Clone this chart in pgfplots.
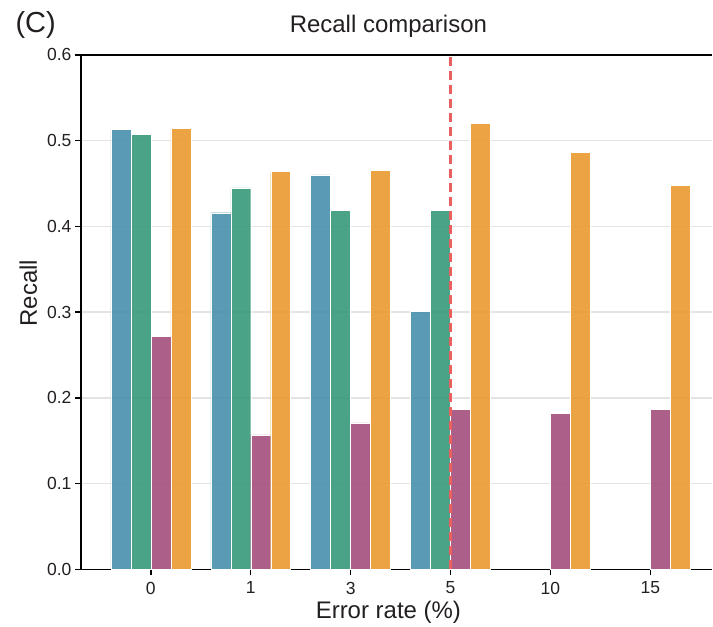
\documentclass[border=0pt]{standalone}
\usepackage{pgfplots}
\pgfplotsset{compat=1.18}
\usepackage{fontspec}
\setmainfont{Liberation Sans}
\definecolor{cblue}{RGB}{73,143,173}
\definecolor{cgreen}{RGB}{55,153,122}
\definecolor{cpurple}{RGB}{163,78,123}
\definecolor{corange}{RGB}{233,153,48}
\definecolor{cred}{RGB}{232,96,95}
\definecolor{cgrid}{RGB}{228,228,228}
\definecolor{ctext}{RGB}{35,31,32}
\begin{document}
\begin{tikzpicture}
\begin{axis}[
  name=ax,
  scale only axis,
  width=632bp, height=515bp,
  xmin=-0.7, xmax=5.62,
  ymin=0, ymax=0.6,
  axis x line=box, axis y line=left,
  axis line style={-, line width=1.5bp, black},
  xtick={0,1,2,3,4,5},
  xticklabels={0,1,3,5,10,15},
  ytick={0,0.1,0.2,0.3,0.4,0.5,0.6},
  xtick pos=bottom, ytick pos=left,
  tick align=outside,
  major tick length=6bp,
  every tick/.style={black, line width=1.5bp},
  /pgf/number format/assume math mode=true,
  yticklabel style={/pgf/number format/fixed, /pgf/number format/fixed zerofill, /pgf/number format/precision=1},
  xticklabel style={yshift=-3bp},
  ticklabel style={font=\fontsize{17.5bp}{20bp}\selectfont, text=ctext},
  ymajorgrids,
  grid style={cgrid, line width=1.5bp},
  bar width=20bp,
  mybar/.style={ybar, fill opacity=0.9, draw=white, line width=0.4bp},
  title={Recall comparison},
  title style={at={(axis description cs:0.487,1)}, anchor=base, yshift=16bp, font=\fontsize{24bp}{28bp}\selectfont, text=ctext},
  xlabel={Error rate (\%)},
  every axis x label/.style={at={(axis description cs:0.487,0)}, anchor=base, yshift=-49bp, font=\fontsize{24bp}{28bp}\selectfont, text=ctext},
  ylabel={Recall},
  every axis y label/.style={at={(axis description cs:-0.0696,0.537)}, rotate=90, anchor=base, font=\fontsize{24bp}{28bp}\selectfont, text=ctext},
]
\addplot[mybar, fill=cblue, bar shift=-30bp] coordinates {(0,0.513) (1,0.416) (2,0.460) (3,0.301)};
\addplot[mybar, fill=cgreen, bar shift=-10bp] coordinates {(0,0.507) (1,0.445) (2,0.419) (3,0.419)};
\addplot[mybar, fill=cpurple, bar shift=10bp] coordinates {(0,0.272) (1,0.157) (2,0.171) (3,0.187) (4,0.182) (5,0.187)};
\addplot[mybar, fill=corange, bar shift=30bp] coordinates {(0,0.514) (1,0.464) (2,0.465) (3,0.520) (4,0.486) (5,0.448)};
\addplot[sharp plot, no marks, color=cred, line width=2.2bp, dash pattern=on 9bp off 5bp] coordinates {(3,0) (3,0.6)};
\end{axis}
\node[anchor=base west, xshift=-69bp, yshift=22bp, font=\fontsize{29bp}{32bp}\selectfont, text=ctext] at (ax.north west) {(C)};
\path (ax.south west) ++(-81bp,-53bp) rectangle ++(713bp,623bp);
\end{tikzpicture}
\end{document}
